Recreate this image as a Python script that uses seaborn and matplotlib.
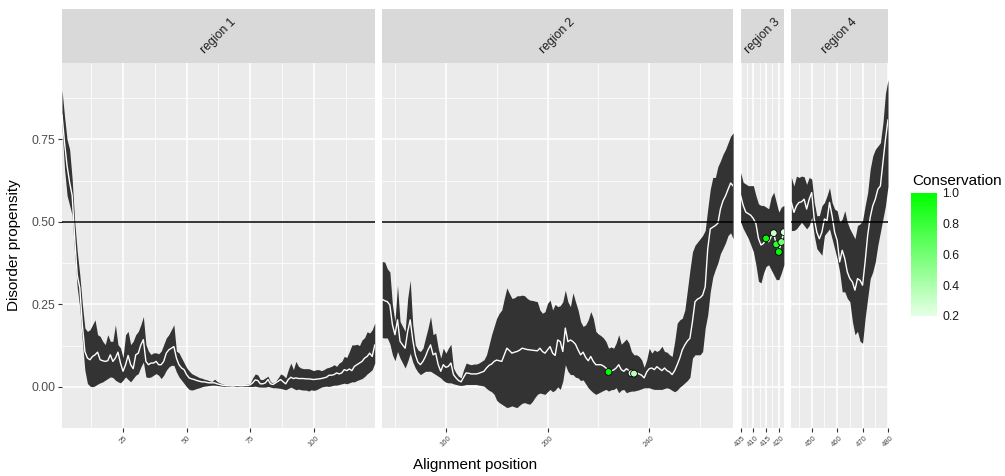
import numpy as np
import pandas as pd
import matplotlib
matplotlib.use("Agg")
import matplotlib.pyplot as plt
import seaborn as sns
from matplotlib.colors import LinearSegmentedColormap, Normalize
from matplotlib.cm import ScalarMappable
from matplotlib.ticker import FormatStrFormatter

# ---------------------------------------------------------------- data
regions = ["region 1", "region 2", "region 3", "region 4"]
region_start = [1, 135, 405, 442]

r1_median = [0.825, 0.74, 0.67, 0.62, 0.58, 0.45, 0.338, 0.30, 0.188, 0.107,
             0.087, 0.082, 0.092, 0.097, 0.105, 0.082, 0.079, 0.077, 0.079, 0.097,
             0.077, 0.087, 0.105, 0.072, 0.047, 0.067, 0.095, 0.067, 0.055, 0.097,
             0.102, 0.127, 0.143, 0.077, 0.067, 0.072, 0.072, 0.077, 0.067, 0.067,
             0.077, 0.102, 0.112, 0.117, 0.122, 0.087, 0.067, 0.057, 0.052, 0.037,
             0.027, 0.024, 0.022, 0.019, 0.017, 0.015, 0.015, 0.013, 0.012, 0.012,
             0.012, 0.009, 0.007, 0.005, 0.004, 0.003, 0.003, 0.002, 0.003, 0.004,
             0.003, 0.003, 0.004, 0.004, 0.006, 0.012, 0.021, 0.019, 0.009, 0.009,
             0.012, 0.022, 0.009, 0.007, 0.012, 0.017, 0.022, 0.015, 0.009, 0.022,
             0.029, 0.025, 0.027, 0.025, 0.025, 0.025, 0.024, 0.024, 0.023, 0.022,
             0.023, 0.024, 0.025, 0.027, 0.029, 0.035, 0.035, 0.037, 0.042, 0.039,
             0.042, 0.052, 0.049, 0.054, 0.049, 0.062, 0.067, 0.072, 0.077, 0.087,
             0.092, 0.102, 0.092, 0.127]
r1_upper = [0.90, 0.82, 0.75, 0.72, 0.63, 0.50, 0.41, 0.34, 0.25, 0.178,
            0.168, 0.173, 0.188, 0.203, 0.158, 0.153, 0.138, 0.128, 0.158, 0.138,
            0.138, 0.188, 0.128, 0.118, 0.088, 0.158, 0.168, 0.128, 0.138, 0.158,
            0.168, 0.188, 0.213, 0.128, 0.108, 0.098, 0.103, 0.103, 0.100, 0.108,
            0.128, 0.148, 0.158, 0.173, 0.188, 0.108, 0.103, 0.088, 0.073, 0.058,
            0.048, 0.040, 0.036, 0.032, 0.028, 0.026, 0.023, 0.021, 0.018, 0.016,
            0.023, 0.016, 0.012, 0.009, 0.007, 0.006, 0.005, 0.004, 0.005, 0.006,
            0.005, 0.006, 0.007, 0.008, 0.011, 0.027, 0.039, 0.036, 0.022, 0.022,
            0.027, 0.032, 0.015, 0.012, 0.017, 0.027, 0.039, 0.035, 0.027, 0.052,
            0.072, 0.052, 0.077, 0.062, 0.057, 0.055, 0.055, 0.055, 0.052, 0.049,
            0.052, 0.052, 0.049, 0.052, 0.057, 0.059, 0.062, 0.067, 0.062, 0.072,
            0.077, 0.092, 0.089, 0.107, 0.127, 0.127, 0.129, 0.125, 0.142, 0.149,
            0.167, 0.163, 0.173, 0.193]
r1_lower = [0.79, 0.66, 0.58, 0.55, 0.52, 0.40, 0.30, 0.24, 0.14, 0.05,
            0.01, 0.002, 0.0, 0.003, 0.008, 0.012, 0.015, 0.02, 0.025, 0.03,
            0.028, 0.02, 0.015, 0.012, 0.02, 0.03, 0.022, 0.015, 0.025, 0.035,
            0.04, 0.06, 0.075, 0.03, 0.028, 0.03, 0.035, 0.04, 0.035, 0.025,
            0.035, 0.05, 0.06, 0.065, 0.065, 0.045, 0.03, 0.02, 0.01, 0.0,
            -0.008, -0.01, -0.008, -0.005, -0.003, 0.0, 0.002, 0.003, 0.004, 0.005,
            0.005, 0.004, 0.003, 0.002, 0.001, 0.001, 0.001, 0.001, 0.001, 0.001,
            0.001, 0.001, 0.001, 0.001, 0.001, 0.001, 0.002, 0.0, -0.001, -0.001,
            -0.001, 0.001, -0.001, -0.003, -0.003, -0.004, -0.005, -0.007, -0.009, -0.005,
            -0.001, -0.005, -0.009, -0.007, -0.009, -0.01, -0.01, -0.013, -0.009, -0.011,
            -0.009, -0.005, -0.001, 0.001, 0.002, 0.001, 0.003, 0.005, 0.005, 0.007,
            0.009, 0.011, 0.009, 0.012, 0.015, 0.015, 0.019, 0.022, 0.025, 0.031,
            0.039, 0.045, 0.052, 0.072]

r2_median = [0.265, 0.261, 0.258, 0.248, 0.188, 0.158, 0.203, 0.138, 0.127, 0.117,
             0.168, 0.203, 0.142, 0.097, 0.075, 0.067, 0.077, 0.092, 0.112, 0.127,
             0.097, 0.102, 0.067, 0.047, 0.067, 0.059, 0.062, 0.072, 0.037, 0.027,
             0.019, 0.015, 0.029, 0.042, 0.041, 0.039, 0.039, 0.039, 0.041, 0.044,
             0.047, 0.057, 0.065, 0.069, 0.077, 0.081, 0.079, 0.077, 0.097, 0.117,
             0.110, 0.102, 0.105, 0.107, 0.111, 0.117, 0.115, 0.113, 0.112, 0.111,
             0.110, 0.109, 0.117, 0.107, 0.102, 0.112, 0.122, 0.102, 0.095, 0.142,
             0.137, 0.107, 0.178, 0.137, 0.142, 0.137, 0.129, 0.112, 0.097, 0.105,
             0.089, 0.079, 0.092, 0.077, 0.067, 0.067, 0.067, 0.063, 0.057, 0.045,
             0.048, 0.051, 0.057, 0.067, 0.052, 0.047, 0.055, 0.049, 0.041, 0.040,
             0.042, 0.039, 0.035, 0.027, 0.045, 0.055, 0.057, 0.052, 0.061, 0.055,
             0.049, 0.057, 0.049, 0.045, 0.037, 0.049, 0.067, 0.087, 0.112, 0.127,
             0.139, 0.147, 0.198, 0.258, 0.266, 0.270, 0.278, 0.303, 0.418, 0.479,
             0.484, 0.489, 0.496, 0.539, 0.564, 0.579, 0.599, 0.618, 0.609]
r2_upper = [0.380, 0.378, 0.358, 0.348, 0.248, 0.198, 0.308, 0.198, 0.183, 0.168,
            0.268, 0.323, 0.188, 0.127, 0.112, 0.107, 0.117, 0.148, 0.178, 0.213,
            0.158, 0.163, 0.117, 0.087, 0.117, 0.102, 0.117, 0.129, 0.057, 0.042,
            0.032, 0.027, 0.052, 0.072, 0.069, 0.067, 0.069, 0.069, 0.072, 0.077,
            0.082, 0.097, 0.127, 0.158, 0.183, 0.208, 0.223, 0.233, 0.268, 0.300,
            0.283, 0.268, 0.270, 0.276, 0.276, 0.278, 0.276, 0.268, 0.263, 0.262,
            0.260, 0.258, 0.233, 0.223, 0.228, 0.253, 0.263, 0.233, 0.250, 0.243,
            0.246, 0.258, 0.293, 0.258, 0.243, 0.285, 0.258, 0.233, 0.198, 0.183,
            0.188, 0.203, 0.228, 0.208, 0.168, 0.160, 0.155, 0.148, 0.137, 0.117,
            0.121, 0.117, 0.133, 0.158, 0.129, 0.137, 0.145, 0.133, 0.107, 0.097,
            0.097, 0.092, 0.082, 0.059, 0.082, 0.117, 0.102, 0.112, 0.107, 0.112,
            0.123, 0.107, 0.105, 0.097, 0.092, 0.137, 0.193, 0.203, 0.208, 0.233,
            0.293, 0.354, 0.409, 0.429, 0.439, 0.449, 0.459, 0.474, 0.539, 0.599,
            0.635, 0.635, 0.668, 0.685, 0.705, 0.720, 0.740, 0.760, 0.770]
r2_lower = [0.149, 0.148, 0.148, 0.130, 0.097, 0.079, 0.107, 0.087, 0.072, 0.057,
            0.077, 0.102, 0.075, 0.057, 0.045, 0.037, 0.042, 0.047, 0.047, 0.047,
            0.042, 0.037, 0.032, 0.027, 0.019, 0.014, 0.012, 0.012, 0.009, 0.007,
            0.005, 0.004, 0.005, 0.007, 0.007, 0.007, 0.007, 0.007, 0.005, 0.004,
            0.002, -0.005, -0.011, -0.015, -0.023, -0.041, -0.048, -0.053, -0.058, -0.063,
            -0.061, -0.058, -0.061, -0.063, -0.056, -0.050, -0.048, -0.051, -0.053, -0.045,
            -0.033, -0.023, -0.019, -0.021, -0.023, -0.015, -0.008, -0.015, -0.010, 0.000,
            -0.008, 0.017, 0.067, 0.047, 0.037, 0.037, 0.029, 0.027, 0.019, 0.021,
            0.009, -0.003, -0.011, -0.018, -0.023, -0.019, -0.015, -0.011, -0.008, -0.013,
            -0.009, -0.008, -0.003, -0.018, -0.010, -0.008, -0.018, -0.015, -0.013, -0.013,
            -0.011, -0.009, -0.006, -0.003, -0.003, -0.003, -0.006, -0.008, -0.008, -0.008,
            -0.008, -0.005, -0.003, -0.006, -0.011, -0.015, -0.010, -0.001, 0.005, 0.012,
            0.019, 0.029, 0.087, 0.097, 0.097, 0.097, 0.107, 0.178, 0.218, 0.288,
            0.333, 0.356, 0.376, 0.404, 0.420, 0.437, 0.459, 0.467, 0.449]

r3_median = [0.58, 0.55, 0.53, 0.525, 0.52, 0.51, 0.495, 0.45, 0.43, 0.435,
             0.45, 0.44, 0.455, 0.466, 0.432, 0.409, 0.439, 0.469]
r3_upper = [0.65, 0.62, 0.615, 0.61, 0.61, 0.61, 0.58, 0.555, 0.55, 0.55,
            0.545, 0.54, 0.575, 0.59, 0.56, 0.53, 0.545, 0.55]
r3_lower = [0.50, 0.48, 0.465, 0.45, 0.43, 0.41, 0.37, 0.32, 0.315, 0.345,
            0.365, 0.37, 0.355, 0.34, 0.325, 0.325, 0.345, 0.37]

r4_median = [0.559, 0.529, 0.549, 0.559, 0.561, 0.569, 0.539, 0.569, 0.589, 0.509,
             0.469, 0.449, 0.469, 0.509, 0.504, 0.559, 0.519, 0.469, 0.444, 0.379,
             0.414, 0.389, 0.348, 0.328, 0.318, 0.293, 0.328, 0.323, 0.308, 0.379,
             0.459, 0.514, 0.549, 0.569, 0.599, 0.609, 0.680, 0.750, 0.810]
r4_upper = [0.635, 0.609, 0.639, 0.635, 0.639, 0.637, 0.614, 0.635, 0.630, 0.559,
            0.519, 0.519, 0.549, 0.559, 0.579, 0.604, 0.559, 0.539, 0.534, 0.499,
            0.509, 0.534, 0.499, 0.479, 0.464, 0.449, 0.489, 0.494, 0.504, 0.549,
            0.589, 0.660, 0.700, 0.720, 0.730, 0.740, 0.800, 0.890, 0.931]
r4_lower = [0.474, 0.474, 0.479, 0.489, 0.499, 0.489, 0.479, 0.489, 0.514, 0.459,
            0.419, 0.409, 0.399, 0.459, 0.469, 0.479, 0.449, 0.419, 0.389, 0.348,
            0.288, 0.288, 0.268, 0.258, 0.198, 0.158, 0.168, 0.138, 0.132, 0.208,
            0.268, 0.328, 0.348, 0.379, 0.429, 0.469, 0.509, 0.549, 0.609]

# conserved positions marked on the median trace
cons_position = [224, 233, 234, 415, 418, 419, 420, 421, 422]
cons_value = [1.0, 0.2, 0.35, 1.0, 0.3, 0.85, 1.0, 0.6, 0.25]

threshold = 0.5

# ---------------------------------------------------------------- tidy table
medians = [r1_median, r2_median, r3_median, r4_median]
uppers = [r1_upper, r2_upper, r3_upper, r4_upper]
lowers = [r1_lower, r2_lower, r3_lower, r4_lower]
frames = []
for name, start, med, up, lo in zip(regions, region_start, medians, uppers, lowers):
    frames.append(pd.DataFrame({
        "region": name,
        "position": np.arange(start, start + len(med)),
        "median": med, "upper": up, "lower": lo,
    }))
df = pd.concat(frames, ignore_index=True)
pts = pd.DataFrame({"position": cons_position, "conservation": cons_value})
pts = pts.merge(df[["region", "position", "median"]], on="position", how="left")

# ---------------------------------------------------------------- style
sns.set_theme(style="darkgrid")
plt.rcParams["font.family"] = ["Liberation Sans", "DejaVu Sans"]

W, H = 1005, 476
fig = plt.figure(figsize=(W / 100, H / 100), dpi=100)

cmap = LinearSegmentedColormap.from_list("cons", ["#e6ffe6", "#00ff00"])
norm = Normalize(vmin=min(cons_value), vmax=max(cons_value))

x_major = [[25, 50, 75, 100], [160, 200, 240], [405, 410, 415, 420], [450, 460, 470, 480]]
x_minor = [[12.5, 37.5, 62.5, 87.5, 112.5], [140, 180, 220, 260],
           [407.5, 412.5, 417.5], [445, 455, 465, 475]]
y_major = [0.0, 0.25, 0.5, 0.75]
y_minor = [-0.125, 0.125, 0.375, 0.625, 0.875]

left_px, right_px, gap_px = 62.0, 888.0, 7.5
panel_top, panel_bottom = 63.0, 428.0
strip_top = 9.0
spans = [len(m) - 1 for m in medians]
px_per_unit = (right_px - left_px - gap_px * (len(regions) - 1)) / sum(spans)

x0 = left_px
for i, name in enumerate(regions):
    w = spans[i] * px_per_unit
    ax = fig.add_axes([x0 / W, (H - panel_bottom) / H, w / W,
                       (panel_bottom - panel_top) / H])
    sub = df[df.region == name]
    ax.set_facecolor("#EBEBEB")
    ax.fill_between(sub.position, sub.lower, sub.upper, color="#333333",
                    linewidth=0, zorder=2)
    sns.lineplot(data=sub, x="position", y="median", color="white",
                 linewidth=1.0, estimator=None, ax=ax, zorder=3)
    ax.axhline(threshold, color="black", linewidth=1.1, zorder=4)
    psub = pts[pts.region == name]
    if len(psub):
        sns.scatterplot(data=psub, x="position", y="median", hue="conservation",
                        palette=cmap, hue_norm=norm, edgecolor="black",
                        linewidth=0.6, s=24, legend=False, ax=ax, zorder=5)

    ax.set_xlim(sub.position.min(), sub.position.max())
    ax.set_ylim(-0.117, 0.982)
    ax.set_xticks(x_major[i])
    ax.set_xticks(x_minor[i], minor=True)
    ax.set_yticks(y_major)
    ax.set_yticks(y_minor, minor=True)
    ax.yaxis.set_major_formatter(FormatStrFormatter("%.2f"))
    ax.set_axisbelow(True)
    ax.grid(which="major", color="white", linewidth=1.1)
    ax.grid(which="minor", color="white", linewidth=0.55)
    for s in ax.spines.values():
        s.set_visible(False)
    ax.set_xlabel("")
    ax.set_ylabel("")
    ax.tick_params(axis="x", which="major", bottom=True, length=3, width=0.8,
                   color="#333333", labelsize=5.5, labelcolor="#4d4d4d", pad=2)
    ax.tick_params(which="minor", length=0)
    for lab in ax.get_xticklabels():
        lab.set_rotation(45)
        lab.set_ha("center")
    if i == 0:
        ax.tick_params(axis="y", which="major", left=True, length=3, width=0.8,
                       color="#333333", labelsize=8.8, labelcolor="#4d4d4d", pad=2)
    else:
        ax.tick_params(axis="y", which="both", left=False, labelleft=False)

    # facet strip
    sax = fig.add_axes([x0 / W, (H - panel_top) / H, w / W,
                        (panel_top - strip_top) / H])
    sax.set_facecolor("#D9D9D9")
    sax.set_xticks([])
    sax.set_yticks([])
    sax.grid(False)
    for s in sax.spines.values():
        s.set_visible(False)
    sax.text(0.5, 0.5, name, rotation=45, ha="center", va="center",
             fontsize=8.8, color="#1a1a1a", transform=sax.transAxes)

    x0 += w + gap_px

fig.text(14 / W, 1 - 245 / H, "Disorder propensity", rotation=90,
         ha="center", va="center", fontsize=11, color="black")
fig.text(475 / W, 1 - 465 / H, "Alignment position", ha="center",
         va="center", fontsize=11, color="black")

# colour bar legend
cax = fig.add_axes([911 / W, (H - 316) / H, 26 / W, 123 / H])
cb = fig.colorbar(ScalarMappable(norm=norm, cmap=cmap), cax=cax,
                  ticks=[0.2, 0.4, 0.6, 0.8, 1.0])
cb.outline.set_visible(False)
cax.grid(False)
cax.tick_params(direction="in", length=5, width=0.8, color="white",
                left=True, right=True, labelleft=False, labelright=True,
                labelsize=8.8, labelcolor="#1a1a1a", pad=4)
cax.set_yticklabels(["0.2", "0.4", "0.6", "0.8", "1.0"])
fig.text(912 / W, 1 - 181 / H, "Conservation", ha="left", va="center",
         fontsize=11, color="black")

fig.savefig("out.png", dpi=100)
